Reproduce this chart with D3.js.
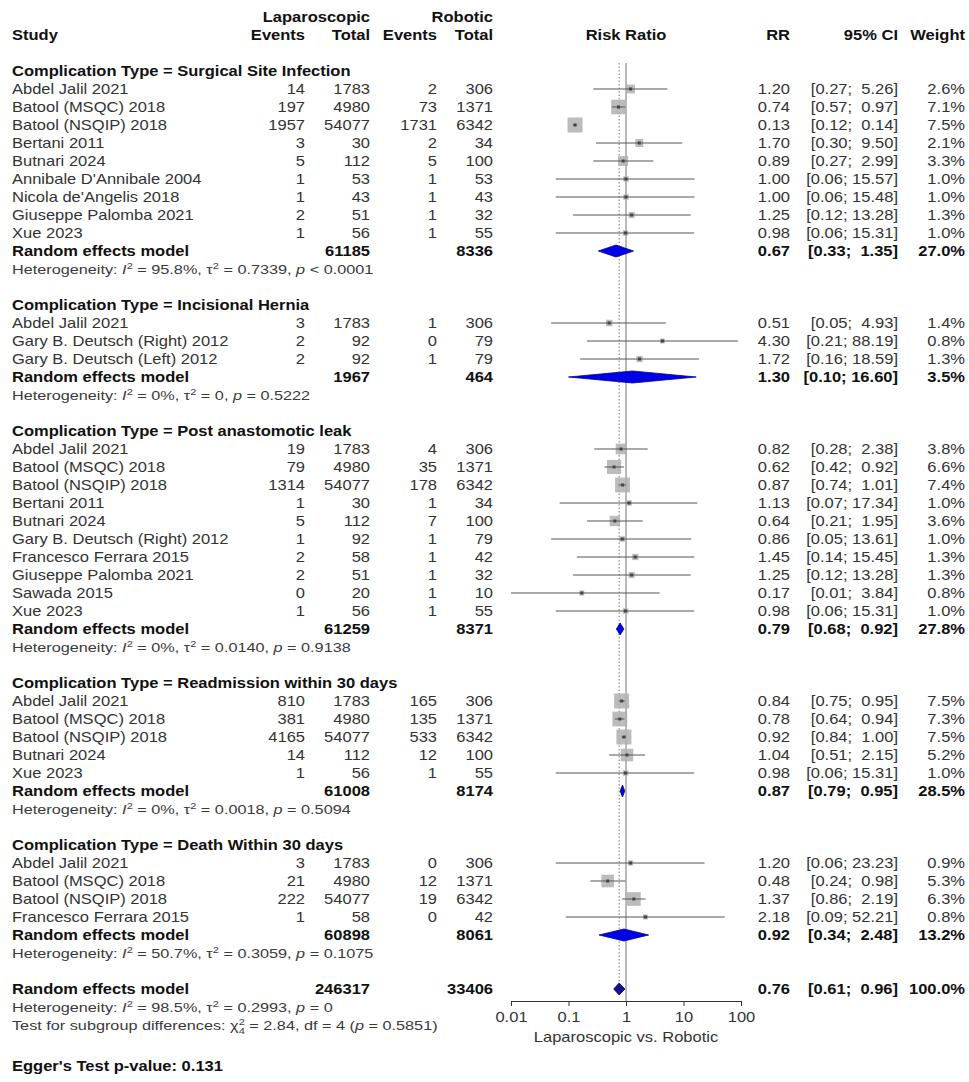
<!DOCTYPE html>
<html>
<head>
<meta charset="utf-8">
<script src="https://cdn.jsdelivr.net/npm/d3@7"></script>
<style>
  html, body { margin: 0; padding: 0; background: #fff; }
  svg { display: block; font-family: "Liberation Sans", Arial, sans-serif; }
  text { white-space: pre; }
</style>
</head>
<body>
<svg id="chart" width="969" height="1082"></svg>
<script>
// ---- Study-level data ----
const groupNames = [
  "Surgical Site Infection",
  "Incisional Hernia",
  "Post anastomotic leak",
  "Readmission within 30 days",
  "Death Within 30 days"
];
const studyGroup = [0,0,0,0,0,0,0,0,0, 1,1,1, 2,2,2,2,2,2,2,2,2,2, 3,3,3,3,3, 4,4,4,4];
const studyLabels = [
  "Abdel Jalil 2021","Batool (MSQC) 2018","Batool (NSQIP) 2018","Bertani 2011","Butnari 2024",
  "Annibale D'Annibale 2004","Nicola de'Angelis 2018","Giuseppe Palomba 2021","Xue 2023",
  "Abdel Jalil 2021","Gary B. Deutsch (Right) 2012","Gary B. Deutsch (Left) 2012",
  "Abdel Jalil 2021","Batool (MSQC) 2018","Batool (NSQIP) 2018","Bertani 2011","Butnari 2024",
  "Gary B. Deutsch (Right) 2012","Francesco Ferrara 2015","Giuseppe Palomba 2021","Sawada 2015","Xue 2023",
  "Abdel Jalil 2021","Batool (MSQC) 2018","Batool (NSQIP) 2018","Butnari 2024","Xue 2023",
  "Abdel Jalil 2021","Batool (MSQC) 2018","Batool (NSQIP) 2018","Francesco Ferrara 2015"
];
const lapEvents = [14,197,1957,3,5,1,1,2,1, 3,2,2, 19,79,1314,1,5,1,2,2,0,1, 810,381,4165,14,1, 3,21,222,1];
const lapTotal  = [1783,4980,54077,30,112,53,43,51,56, 1783,92,92, 1783,4980,54077,30,112,92,58,51,20,56, 1783,4980,54077,112,56, 1783,4980,54077,58];
const robEvents = [2,73,1731,2,5,1,1,1,1, 1,0,1, 4,35,178,1,7,1,1,1,1,1, 165,135,533,12,1, 0,12,19,0];
const robTotal  = [306,1371,6342,34,100,53,43,32,55, 306,79,79, 306,1371,6342,34,100,79,42,32,10,55, 306,1371,6342,100,55, 306,1371,6342,42];
const rr     = [1.20,0.74,0.13,1.70,0.89,1.00,1.00,1.25,0.98, 0.51,4.30,1.72, 0.82,0.62,0.87,1.13,0.64,0.86,1.45,1.25,0.17,0.98, 0.84,0.78,0.92,1.04,0.98, 1.20,0.48,1.37,2.18];
const ciLow  = [0.27,0.57,0.12,0.30,0.27,0.06,0.06,0.12,0.06, 0.05,0.21,0.16, 0.28,0.42,0.74,0.07,0.21,0.05,0.14,0.12,0.01,0.06, 0.75,0.64,0.84,0.51,0.06, 0.06,0.24,0.86,0.09];
const ciHigh = [5.26,0.97,0.14,9.50,2.99,15.57,15.48,13.28,15.31, 4.93,88.19,18.59, 2.38,0.92,1.01,17.34,1.95,13.61,15.45,13.28,3.84,15.31, 0.95,0.94,1.00,2.15,15.31, 23.23,0.98,2.19,52.21];
const weight = [2.6,7.1,7.5,2.1,3.3,1.0,1.0,1.3,1.0, 1.4,0.8,1.3, 3.8,6.6,7.4,1.0,3.6,1.0,1.3,1.3,0.8,1.0, 7.5,7.3,7.5,5.2,1.0, 0.9,5.3,6.3,0.8];

// ---- Subgroup random effects summaries ----
const groupLapTotal = [61185,1967,61259,61008,60898];
const groupRobTotal = [8336,464,8371,8174,8061];
const groupRR     = [0.67,1.30,0.79,0.87,0.92];
const groupLow    = [0.33,0.10,0.68,0.79,0.34];
const groupHigh   = [1.35,16.60,0.92,0.95,2.48];
const groupWeight = [27.0,3.5,27.8,28.5,13.2];
const groupI2     = ["95.8%","0%","0%","0%","50.7%"];
const groupTau2   = ["0.7339","0","0.0140","0.0018","0.3059"];
const groupP      = ["< 0.0001","= 0.5222","= 0.9138","= 0.5094","= 0.1075"];

// ---- Overall summary ----
const overallLapTotal = 246317, overallRobTotal = 33406;
const overallRR = 0.76, overallLow = 0.61, overallHigh = 0.96, overallWeight = 100.0;
const overallI2 = "98.5%", overallTau2 = "0.2993", overallP = "= 0";
const subgroupChi2 = "2.84", subgroupDf = "4", subgroupP = "0.5851";
const eggerP = "0.131";

const axisTicks = [0.01, 0.1, 1, 10, 100];
const axisLabel = "Laparoscopic vs. Robotic";

// ---- Layout ----
const svg = d3.select("#chart");
const SX = 1.18;           // horizontal text stretch
const FS = 14;             // body font size
const rowH = 18;
const row0 = 71;           // centre of first subgroup heading
const yRow = i => row0 + rowH * i;

const col = { study: 12, lapEv: 305, lapTot: 370, robEv: 437, robTot: 493, rr: 790, ci: 898, w: 965 };
const x = d3.scaleLog().domain([0.01, 100]).range([511, 741]);

function txt(x0, y0, s, o = {}) {
  const t = svg.append("text")
    .attr("transform", `translate(${x0},${y0 + 5}) scale(${o.sx || SX},1)`)
    .attr("text-anchor", o.anchor || "start")
    .attr("font-size", o.size || FS)
    .attr("font-weight", o.bold ? "bold" : "normal")
    .attr("fill", o.fill || (o.bold ? "#111" : "#333"));
  if (s !== null) t.text(s);
  return t;
}
const f2 = v => v.toFixed(2);
const ciText = (lo, hi) => {
  const h = f2(hi);
  return "[" + f2(lo) + "; " + (h.length < 5 ? " " : "") + h + "]";
};

function hetLine(y0, i2, tau2, p) {
  const t = txt(col.study, y0, null, { size: 12.5, sx: 1.3, fill: "#3a3a3a" });
  t.append("tspan").text("Heterogeneity: ");
  t.append("tspan").attr("font-style", "italic").text("I");
  t.append("tspan").attr("dy", -5).attr("font-size", 8.5).text("2");
  t.append("tspan").attr("dy", 5).text(" = " + i2 + ", \u03c4");
  t.append("tspan").attr("dy", -5).attr("font-size", 8.5).text("2");
  t.append("tspan").attr("dy", 5).text(" = " + tau2 + ", ");
  t.append("tspan").attr("font-style", "italic").text("p");
  t.append("tspan").text(" " + p);
}

// ---- Header ----
txt(col.lapTot, yRow(-3), "Laparoscopic", { anchor: "end", bold: true });
txt(col.robTot, yRow(-3), "Robotic", { anchor: "end", bold: true });
txt(col.study, yRow(-2), "Study", { bold: true });
txt(col.lapEv, yRow(-2), "Events", { anchor: "end", bold: true });
txt(col.lapTot, yRow(-2), "Total", { anchor: "end", bold: true });
txt(col.robEv, yRow(-2), "Events", { anchor: "end", bold: true });
txt(col.robTot, yRow(-2), "Total", { anchor: "end", bold: true });
txt(x(1), yRow(-2), "Risk Ratio", { anchor: "middle", bold: true });
txt(col.rr, yRow(-2), "RR", { anchor: "end", bold: true });
txt(col.ci, yRow(-2), "95% CI", { anchor: "end", bold: true });
txt(col.w, yRow(-2), "Weight", { anchor: "end", bold: true });

// ---- Row positions ----
const studyRow = [];
const groupRow = [];
let r = 0;
groupNames.forEach((g, gi) => {
  groupRow[gi] = { head: r };
  r += 1;
  studyGroup.forEach((sg, si) => { if (sg === gi) { studyRow[si] = r; r += 1; } });
  groupRow[gi].re = r; r += 1;
  groupRow[gi].het = r; r += 2;
});
const overallRow = r;

const plotTop = yRow(0) - 8;
const axisY = yRow(overallRow) + 12;

// ---- Reference lines ----
const lines = svg.append("g");
lines.append("line")
  .attr("x1", x(overallRR)).attr("x2", x(overallRR))
  .attr("y1", plotTop).attr("y2", yRow(overallRow) - 6)
  .attr("stroke", "#777").attr("stroke-width", 1).attr("stroke-dasharray", "1.5,2");

// ---- Studies ----
const maxW = d3.max(weight);
const sq = w => 15 * Math.sqrt(w / maxW);
const marks = svg.append("g");
studyLabels.forEach((lab, i) => {
  const y0 = yRow(studyRow[i]);
  txt(col.study, y0, lab);
  txt(col.lapEv, y0, String(lapEvents[i]), { anchor: "end" });
  txt(col.lapTot, y0, String(lapTotal[i]), { anchor: "end" });
  txt(col.robEv, y0, String(robEvents[i]), { anchor: "end" });
  txt(col.robTot, y0, String(robTotal[i]), { anchor: "end" });
  txt(col.rr, y0, f2(rr[i]), { anchor: "end" });
  txt(col.ci, y0, ciText(ciLow[i], ciHigh[i]), { anchor: "end" });
  txt(col.w, y0, weight[i].toFixed(1) + "%", { anchor: "end" });
  const s = sq(weight[i]);
  marks.append("rect")
    .attr("x", x(rr[i]) - s / 2).attr("y", y0 - s / 2)
    .attr("width", s).attr("height", s)
    .attr("fill", "#b0b0b0").attr("fill-opacity", 0.85);
  marks.append("line")
    .attr("x1", x(ciLow[i])).attr("x2", x(ciHigh[i]))
    .attr("y1", y0).attr("y2", y0)
    .attr("stroke", "#555").attr("stroke-width", 1);
  marks.append("rect")
    .attr("x", x(rr[i]) - 1.5).attr("y", y0 - 1.5)
    .attr("width", 3).attr("height", 3).attr("fill", "#444");
});

function diamond(est, lo, hi, y0, dark) {
  const h = 6;
  marks.append("polygon")
    .attr("points", [[x(lo), y0], [x(est), y0 - h], [x(hi), y0], [x(est), y0 + h]].map(p => p.join(",")).join(" "))
    .attr("fill", dark ? "#10108a" : "#0000e6")
    .attr("stroke", "#00008b").attr("stroke-width", 0.8);
}

// ---- Subgroups ----
groupNames.forEach((g, gi) => {
  const gr = groupRow[gi];
  txt(col.study, yRow(gr.head), "Complication Type = " + g, { bold: true });
  const y0 = yRow(gr.re);
  txt(col.study, y0, "Random effects model", { bold: true });
  txt(col.lapTot, y0, String(groupLapTotal[gi]), { anchor: "end", bold: true });
  txt(col.robTot, y0, String(groupRobTotal[gi]), { anchor: "end", bold: true });
  txt(col.rr, y0, f2(groupRR[gi]), { anchor: "end", bold: true });
  txt(col.ci, y0, ciText(groupLow[gi], groupHigh[gi]), { anchor: "end", bold: true });
  txt(col.w, y0, groupWeight[gi].toFixed(1) + "%", { anchor: "end", bold: true });
  diamond(groupRR[gi], groupLow[gi], groupHigh[gi], y0, false);
  hetLine(yRow(gr.het), groupI2[gi], groupTau2[gi], groupP[gi]);
});

// ---- Overall ----
const yo = yRow(overallRow);
txt(col.study, yo, "Random effects model", { bold: true });
txt(col.lapTot, yo, String(overallLapTotal), { anchor: "end", bold: true });
txt(col.robTot, yo, String(overallRobTotal), { anchor: "end", bold: true });
txt(col.rr, yo, f2(overallRR), { anchor: "end", bold: true });
txt(col.ci, yo, ciText(overallLow, overallHigh), { anchor: "end", bold: true });
txt(col.w, yo, overallWeight.toFixed(1) + "%", { anchor: "end", bold: true });
diamond(overallRR, overallLow, overallHigh, yo, true);
hetLine(yRow(overallRow + 1), overallI2, overallTau2, overallP);

const tt = txt(col.study, yRow(overallRow + 2), null, { size: 12.5, sx: 1.3, fill: "#3a3a3a" });
tt.append("tspan").text("Test for subgroup differences: \u03c7");
tt.append("tspan").attr("dy", -5).attr("font-size", 8.5).text("2");
tt.append("tspan").attr("dx", -4.7).attr("dy", 9).attr("font-size", 8.5).text(subgroupDf);
tt.append("tspan").attr("dy", -4).text(" = " + subgroupChi2 + ", df = " + subgroupDf + " (");
tt.append("tspan").attr("font-style", "italic").text("p");
tt.append("tspan").text(" = " + subgroupP + ")");

// solid line of no effect
lines.append("line")
  .attr("x1", x(1)).attr("x2", x(1))
  .attr("y1", plotTop).attr("y2", axisY)
  .attr("stroke", "#8a8a8a").attr("stroke-width", 1.2);

// ---- Axis ----
const ax = svg.append("g")
  .attr("transform", `translate(0,${axisY})`)
  .call(d3.axisBottom(x).tickValues(axisTicks).tickFormat(d => String(d)).tickSize(5).tickSizeOuter(0));
ax.select(".domain").attr("stroke", "#333");
ax.selectAll(".tick line").attr("stroke", "#333");
ax.selectAll(".tick text")
  .attr("font-family", "Liberation Sans, Arial, sans-serif")
  .attr("font-size", FS).attr("fill", "#333")
  .attr("y", 11).attr("transform", `scale(${SX},1)`);
txt(x(1), axisY + 36, axisLabel, { anchor: "middle" });

txt(col.study, 1066, "Egger's Test p-value: " + eggerP, { bold: true });
</script>
</body>
</html>
